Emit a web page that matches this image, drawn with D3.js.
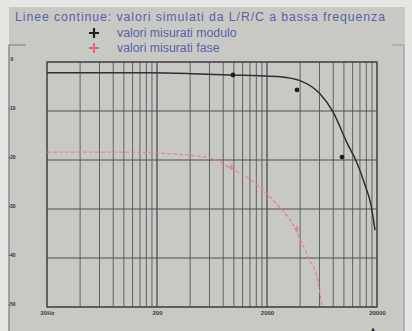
<!DOCTYPE html>
<html>
<head>
<meta charset="utf-8">
<script src="https://cdn.jsdelivr.net/npm/d3@7"></script>
<style>
  body { margin: 0; background: #e6e6e4; }
  svg { display: block; }
</style>
</head>
<body>
<div id="chart"></div>
<script>
// continuous curves: simulated (frequency in Hz)
const simFreq = [20, 173, 492, 922, 1727, 2625, 3990, 6066, 7962, 10673, 13156, 15561, 17640, 19180];
const simModulo = [-2.2, -2.2, -2.45, -2.65, -2.8, -3.0, -3.8, -6.5, -10.2, -16.5, -20.6, -25.1, -29.2, -34.3];

const simFaseFreq = [20, 100, 375, 607, 922, 1492, 2364, 3447, 4717, 5815, 6325];
const simFase = [-92, -92, -95, -98, -108, -122, -143, -166, -199, -224, -250];

// measured points
const misFreq = [981, 3748, 9614];
const misModulo = [-2.65, -5.7, -19.4];
const misFaseFreq = [941, 3748];
const misFase = [-107, -170];

// axis ticks
const xTickValues = [20, 200, 2000, 20000];
const xTickLabels = ['20Hz', '200', '2000', '20000'];
const yTickValues = [0, -10, -20, -30, -40, -50];
const yTickLabels = ['0', '-10', '-20', '-30', '-40', '-50'];

const legendLines = [
  'Linee continue: valori simulati da L/R/C a bassa frequenza',
  'valori misurati modulo',
  'valori misurati fase'
];

const W = 412, H = 331;
const margin = { top: 62, right: 35, bottom: 24, left: 47 };
const width = W - margin.left - margin.right;
const height = H - margin.top - margin.bottom;

const svg = d3.select('#chart').append('svg')
  .attr('width', W)
  .attr('height', H);

// scanned paper background
svg.append('rect')
  .attr('x', 9).attr('y', 7)
  .attr('width', 396).attr('height', H - 7)
  .attr('fill', '#c8c9c4');

// outer frame bits
svg.append('path')
  .attr('d', 'M9,331 V45 H26')
  .attr('fill', 'none').attr('stroke', '#77787a').attr('stroke-width', 1.2);
svg.append('path')
  .attr('d', 'M392,45 H404 V331')
  .attr('fill', 'none').attr('stroke', '#9a9b9c').attr('stroke-width', 1);

const x = d3.scaleLog().domain([20, 20000]).range([0, width]);
const y = d3.scaleLinear().domain([-50, 0]).range([height, 0]);
const yFase = d3.scaleLinear().domain([-250, 0]).range([height, 0]);

const g = svg.append('g')
  .attr('transform', `translate(${margin.left}, ${margin.top})`);

// vertical grid: every multiple inside each 20..200 decade
const gridX = [];
[20, 200, 2000].forEach(d => { for (let k = 1; k <= 10; k++) gridX.push(d * k); });

g.append('g')
  .attr('class', 'grid')
  .selectAll('line')
  .data(gridX)
  .enter().append('line')
  .attr('x1', d => x(d)).attr('x2', d => x(d))
  .attr('y1', 0).attr('y2', height)
  .attr('stroke', '#55565a')
  .attr('stroke-opacity', 0.9)
  .attr('stroke-width', 1);

g.append('g')
  .attr('class', 'ygrid')
  .selectAll('line')
  .data(yTickValues)
  .enter().append('line')
  .attr('x1', 0).attr('x2', width)
  .attr('y1', d => y(d)).attr('y2', d => y(d))
  .attr('stroke', '#4e4f50')
  .attr('stroke-width', 1.2);

g.append('rect')
  .attr('width', width).attr('height', height)
  .attr('fill', 'none')
  .attr('stroke', '#4a4b4c')
  .attr('stroke-width', 1.4);

// x axis labels
g.append('g')
  .attr('class', 'axis axis--x')
  .attr('transform', `translate(0, ${height})`)
  .call(d3.axisBottom(x).tickValues(xTickValues).tickSize(0)
    .tickFormat((d, i) => xTickLabels[i]))
  .call(a => a.select('.domain').remove())
  .selectAll('text')
  .attr('dy', '0.9em')
  .style('font-family', 'Liberation Sans, Arial, sans-serif')
  .style('font-size', '6px')
  .style('font-weight', 'bold')
  .attr('fill', '#3a3a3a');

// y axis labels (far left)
g.append('g')
  .attr('class', 'axis axis--y')
  .attr('transform', `translate(${12 - margin.left}, -3)`)
  .call(d3.axisLeft(y).tickValues(yTickValues).tickSize(0)
    .tickFormat((d, i) => yTickLabels[i]))
  .call(a => a.select('.domain').remove())
  .selectAll('text')
  .attr('text-anchor', 'middle')
  .attr('x', 0)
  .style('font-family', 'Liberation Sans, Arial, sans-serif')
  .style('font-size', '5px')
  .style('font-weight', 'bold')
  .attr('fill', '#333');

// simulated phase (red dashed)
const faseLine = d3.line()
  .x((d, i) => x(simFaseFreq[i]))
  .y(d => yFase(d))
  .curve(d3.curveMonotoneX);

g.append('path')
  .datum(simFase)
  .attr('d', faseLine)
  .attr('fill', 'none')
  .attr('stroke', '#e0838a')
  .attr('stroke-width', 1.3)
  .attr('stroke-dasharray', '4,2')
  .attr('stroke-opacity', 0.9);

// simulated modulo (black)
const moduloLine = d3.line()
  .x((d, i) => x(simFreq[i]))
  .y(d => y(d))
  .curve(d3.curveMonotoneX);

g.append('path')
  .datum(simModulo)
  .attr('d', moduloLine)
  .attr('fill', 'none')
  .attr('stroke', '#2e2f30')
  .attr('stroke-width', 1.5);

// measured modulo
g.selectAll('.mis-mod')
  .data(misModulo)
  .enter().append('circle')
  .attr('class', 'mis-mod')
  .attr('cx', (d, i) => x(misFreq[i]))
  .attr('cy', d => y(d))
  .attr('r', 2.4)
  .attr('fill', '#1e1e1e');

// measured phase: small crosses
g.selectAll('.mis-fase')
  .data(misFase)
  .enter().append('path')
  .attr('class', 'mis-fase')
  .attr('transform', (d, i) => `translate(${x(misFaseFreq[i])}, ${yFase(d)})`)
  .attr('d', 'M-3,0 H3 M0,-3 V3')
  .attr('stroke', '#e07a80')
  .attr('stroke-width', 1);

// legend text
const legend = svg.append('g')
  .style('font-family', 'Liberation Sans, Arial, sans-serif')
  .style('font-size', '12.3px')
  .attr('fill', '#5862a8');

legend.append('text').attr('x', 15).attr('y', 21)
  .attr('textLength', 370).attr('lengthAdjust', 'spacing')
  .text(legendLines[0]);
legend.append('text').attr('x', 117).attr('y', 37).text(legendLines[1]);
legend.append('text').attr('x', 117).attr('y', 52).text(legendLines[2]);

// legend markers
svg.append('path')
  .attr('transform', 'translate(94, 33)')
  .attr('d', 'M-5,0 H5 M0,-5 V5')
  .attr('stroke', '#1e1e1e')
  .attr('stroke-width', 2.2);

svg.append('path')
  .attr('transform', 'translate(94, 48)')
  .attr('d', 'M-5,0 H5 M0,-5 V5')
  .attr('stroke', '#e0656e')
  .attr('stroke-width', 1.8);

// small dark mark at bottom right
svg.append('text')
  .attr('x', 373).attr('y', 331)
  .attr('text-anchor', 'middle')
  .style('font-size', '6px')
  .attr('fill', '#222')
  .text('▲');
</script>
</body>
</html>
